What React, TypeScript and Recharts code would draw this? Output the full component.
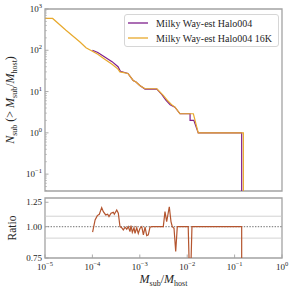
import {
  LineChart,
  Line,
  XAxis,
  YAxis,
  ReferenceLine,
  ReferenceArea,
  Legend,
} from "recharts";

// subhalo mass functions, N(>Msub/Mhost)
const haloMass = [
  1.0e-4, 1.3e-4, 1.82e-4, 2.6e-4, 3.47e-4, 3.9e-4, 5.62e-4, 7.24e-4, 8.32e-4, 1.0e-3, 1.29e-3, 2.29e-3,
  2.9e-3, 3.55e-3, 4.37e-3, 5.5e-3, 7.05e-3, 1.15e-2, 1.15e-2, 1.38e-2, 1.71e-2, 0.141, 0.141,
];
const haloN = [
  100, 88, 69, 53, 40, 31, 27.5, 18.6, 17, 14, 11.5, 11.5, 8.5, 6.2, 4.8, 4.2, 2.9, 2.9, 2.0, 2.0, 1.0, 1.0, 0.01,
];

const halo16kMass = [
  1e-5, 1.45e-5, 2.77e-5, 5.47e-5, 7.33e-5, 1.0e-4, 1.3e-4, 1.82e-4, 2.6e-4, 3.47e-4, 3.8e-4, 5.62e-4, 7.24e-4,
  8.32e-4, 1.0e-3, 1.29e-3, 2.29e-3, 3.13e-3, 3.94e-3, 4.79e-3, 5.53e-3, 7.05e-3, 1.35e-2, 1.71e-2, 0.153, 0.153,
];
const halo16kN = [
  590, 590, 305, 159, 115, 95, 80, 61, 46, 35, 30, 27.5, 18.6, 17, 14, 11.7, 11.7, 8.1, 5.9, 4.7, 4.2, 2.9, 2.9,
  1.0, 1.0, 0.01,
];

const ratioMass = [
  1.01e-4, 1.14e-4, 1.27e-4, 1.4e-4, 1.57e-4, 1.7e-4, 1.91e-4, 2.1e-4, 2.24e-4, 2.47e-4, 2.76e-4, 2.9e-4, 3.26e-4,
  3.52e-4, 3.82e-4, 4.15e-4, 4.49e-4, 4.88e-4, 5.3e-4, 5.71e-4, 6.21e-4, 6.52e-4, 6.95e-4, 7.55e-4, 7.93e-4,
  8.61e-4, 9.29e-4, 1.01e-3, 1.1e-3, 1.19e-3, 1.29e-3, 1.4e-3, 1.51e-3, 1.64e-3, 1.78e-3, 3.13e-3, 3.4e-3,
  3.69e-3, 4.19e-3, 4.55e-3, 4.85e-3, 5.27e-3, 5.72e-3, 6.18e-3, 1.05e-2, 1.11e-2, 1.19e-2, 1.26e-2, 0.141, 0.141,
];
const ratioVal = [
  0.95, 1.063, 1.106, 1.12, 1.19, 1.147, 1.113, 1.12, 1.096, 1.13, 1.14, 1.12, 1.165, 1.13, 1.0, 0.99, 0.97, 0.995,
  0.977, 1.0, 0.955, 1.01, 0.95, 0.99, 0.94, 0.99, 0.94, 0.985, 1.0, 0.927, 0.995, 0.92, 0.927, 0.995, 1.0, 1.0,
  1.147, 1.047, 1.2, 1.047, 1.0, 0.985, 0.796, 1.0, 1.0, 0.67, 0.67, 1.0, 1.0, 0.5,
];

const seriesNames = ["Milky Way-est Halo004", "Milky Way-est Halo004 16K"];

const xTicks = [1e-5, 1e-4, 1e-3, 1e-2, 1e-1, 1];
const nMajorTicks = [0.1, 1, 10, 100, 1000];
const ratioTicks = [0.75, 1.0, 1.25];
const ratioGrid = [0.9, 1.1];

const FONT = "'Liberation Serif', 'DejaVu Serif', serif";
const TEXT = "#262626";
const SPINE = "#a3a3a3";
const PURPLE = "#7e1e8c";
const GOLD = "#e8a92c";
const RUST = "#b4552f";

const haloData = haloMass.map((m, i) => ({ m, n: haloN[i] }));
const halo16kData = halo16kMass.map((m, i) => ({ m, n: halo16kN[i] }));
const ratioData = ratioMass.map((m, i) => ({ m, r: ratioVal[i] }));

const nMinorTicks: number[] = [];
[0.01, 0.1, 1, 10, 100].forEach((d) => {
  for (let k = 2; k < 10; k++) {
    const v = +(k * d).toPrecision(3);
    if (v >= 0.039 && v <= 1000) nMinorTicks.push(v);
  }
});
const nTicks = [...nMajorTicks, ...nMinorTicks].sort((a, b) => a - b);

const expLabel = (v: number) => {
  const e = Math.round(Math.log10(v));
  return e < 0 ? `\u2212${-e}` : `${e}`;
};

const PowerText = ({ x, y, v, anchor }: any) => (
  <text x={x} y={y} textAnchor={anchor} fontSize={9} fill={TEXT} fontFamily={FONT}>
    10<tspan dy={-4} fontSize={6.5}>{expLabel(v)}</tspan>
  </text>
);

const XTickBottom = (props: any) => {
  const { x, y, payload } = props;
  return (
    <g>
      <line x1={x} x2={x} y1={y} y2={y - 3.5} stroke={SPINE} strokeWidth={0.9} />
      <PowerText x={x} y={y + 12} v={payload.value} anchor="middle" />
    </g>
  );
};

const XTickMark = (props: any) => {
  const { x, y } = props;
  return <line x1={x} x2={x} y1={y} y2={y - 3.5} stroke={SPINE} strokeWidth={0.9} />;
};

const NTick = (props: any) => {
  const { x, y, payload } = props;
  const v = payload.value;
  const major = nMajorTicks.includes(v);
  return (
    <g>
      <line x1={x} x2={x + (major ? 3.5 : 2)} y1={y} y2={y} stroke={SPINE} strokeWidth={major ? 0.9 : 0.6} />
      {major && <PowerText x={x - 3} y={y + 3} v={v} anchor="end" />}
    </g>
  );
};

const RatioTick = (props: any) => {
  const { x, y, payload } = props;
  return (
    <g>
      <line x1={x} x2={x + 3.5} y1={y} y2={y} stroke={SPINE} strokeWidth={0.9} />
      <text x={x - 3} y={y + 3} textAnchor="end" fontSize={9} fill={TEXT} fontFamily={FONT}>
        {payload.value.toFixed(2)}
      </text>
    </g>
  );
};

const LegendBox = () => (
  <div
    style={{
      border: "1px solid #d6d6d6",
      borderRadius: 3,
      background: "#fff",
      padding: "0.5px 6px 0.5px 3px",
      fontFamily: FONT,
      fontSize: 10,
      color: TEXT,
      lineHeight: "15px",
      whiteSpace: "nowrap",
    }}
  >
    {seriesNames.map((name, i) => (
      <div key={name} style={{ display: "flex", alignItems: "center", height: 15 }}>
        <svg width={20} height={4}>
          <line x1={0} x2={20} y1={2} y2={2} stroke={i === 0 ? PURPLE : GOLD} strokeWidth={1.3} />
        </svg>
        <span style={{ marginLeft: 8 }}>{name}</span>
      </div>
    ))}
  </div>
);

export default function App() {
  return (
    <div style={{ position: "absolute", left: 0, top: 0, width: 293, height: 293, background: "#fff" }}>
      <div style={{ position: "absolute", left: 0, top: 0 }}>
        <LineChart width={293} height={192} margin={{ top: 9, right: 11, left: 0, bottom: 1 }}>
          <XAxis
            dataKey="m"
            type="number"
            scale="log"
            domain={[1e-5, 1]}
            allowDataOverflow
            ticks={xTicks}
            interval={0}
            height={0}
            tickSize={0}
            tickMargin={0}
            tickLine={false}
            axisLine={false}
            tick={<XTickMark />}
          />
          <YAxis
            type="number"
            scale="log"
            domain={[0.039, 1000]}
            allowDataOverflow
            ticks={nTicks}
            interval={0}
            width={45}
            tickSize={0}
            tickMargin={0}
            tickLine={false}
            axisLine={false}
            tick={<NTick />}
          />
          <ReferenceArea x1={1e-5} x2={1} y1={0.039} y2={1000} fill="none" stroke={SPINE} strokeWidth={1.3} />
          <Line
            data={haloData}
            dataKey="n"
            name={seriesNames[0]}
            stroke={PURPLE}
            strokeWidth={1.2}
            dot={false}
            type="linear"
            isAnimationActive={false}
          />
          <Line
            data={halo16kData}
            dataKey="n"
            name={seriesNames[1]}
            stroke={GOLD}
            strokeWidth={1.2}
            dot={false}
            type="linear"
            isAnimationActive={false}
          />
          <Legend
            layout="vertical"
            align="center"
            verticalAlign="middle"
            content={<LegendBox />}
            wrapperStyle={{ position: "absolute", top: 14, left: 124, width: "auto" }}
          />
        </LineChart>
      </div>
      <div style={{ position: "absolute", left: 0, top: 192 }}>
        <LineChart width={293} height={101} margin={{ top: 6, right: 11, left: 0, bottom: 0 }}>
          <XAxis
            dataKey="m"
            type="number"
            scale="log"
            domain={[1e-5, 1]}
            allowDataOverflow
            ticks={xTicks}
            interval={0}
            height={35}
            tickSize={0}
            tickMargin={0}
            tickLine={false}
            axisLine={false}
            tick={<XTickBottom />}
          />
          <YAxis
            type="number"
            scale="log"
            domain={[0.75, 1.3]}
            allowDataOverflow
            ticks={ratioTicks}
            interval={0}
            width={45}
            tickSize={0}
            tickMargin={0}
            tickLine={false}
            axisLine={false}
            tick={<RatioTick />}
          />
          {ratioGrid.map((g) => (
            <ReferenceLine key={g} y={g} stroke="#c8c8c8" strokeWidth={0.8} />
          ))}
          <ReferenceLine y={1} stroke="#8c8c8c" strokeWidth={1.4} strokeDasharray="1.4 1.4" />
          <ReferenceArea x1={1e-5} x2={1} y1={0.75} y2={1.3} fill="none" stroke={SPINE} strokeWidth={1.3} />
          <Line
            data={ratioData}
            dataKey="r"
            stroke={RUST}
            strokeWidth={1.2}
            dot={false}
            type="linear"
            isAnimationActive={false}
          />
        </LineChart>
      </div>
      <svg
        width={293}
        height={293}
        style={{ position: "absolute", left: 0, top: 0, pointerEvents: "none" }}
        fontFamily={FONT}
        fill={TEXT}
      >
        <text transform="rotate(-90)" x={-100} y={14} textAnchor="middle" fontSize={12}>
          <tspan fontStyle="italic">N</tspan>
          <tspan fontSize={8} dy={2.5}>sub</tspan>
          <tspan dy={-2.5}> (&gt; </tspan>
          <tspan fontStyle="italic">M</tspan>
          <tspan fontSize={8} dy={2.5}>sub</tspan>
          <tspan dy={-2.5}>/</tspan>
          <tspan fontStyle="italic">M</tspan>
          <tspan fontSize={8} dy={2.5}>host</tspan>
          <tspan dy={-2.5}>)</tspan>
        </text>
        <text transform="rotate(-90)" x={-228} y={16} textAnchor="middle" fontSize={11.5}>
          Ratio
        </text>
        <text x={163.5} y={283} textAnchor="middle" fontSize={12}>
          <tspan fontStyle="italic">M</tspan>
          <tspan fontSize={8} dy={2.5}>sub</tspan>
          <tspan dy={-2.5}>/</tspan>
          <tspan fontStyle="italic">M</tspan>
          <tspan fontSize={8} dy={2.5}>host</tspan>
        </text>
      </svg>
    </div>
  );
}
